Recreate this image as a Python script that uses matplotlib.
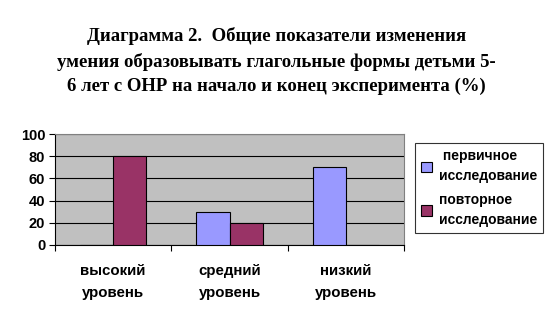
import matplotlib
matplotlib.use("Agg")
import matplotlib.pyplot as plt
import numpy as np

categories = ["высокий\nуровень", "средний\nуровень", "низкий\nуровень"]
series_names = [" первичное\nисследование", "повторное\nисследование"]
primary = [0, 30, 70]
repeat = [80, 20, 0]
yticks = [0, 20, 40, 60, 80, 100]
title = "Диаграмма 2.  Общие показатели изменения\nумения образовывать глагольные формы детьми 5-\n6 лет с ОНР на начало и конец эксперимента (%)"

W, H = 553, 322
fig = plt.figure(figsize=(W/100, H/100), dpi=100)
ax = fig.add_axes([55/W, 1-245/H, (404-55)/W, (245-134)/H])
ax.set_facecolor("#C0C0C0")

x = np.arange(len(categories))
w = 1/3.5
ax.bar(x - w/2, primary, w, color="#9999FF", edgecolor="black", linewidth=0.8, label=series_names[0], zorder=3)
ax.bar(x + w/2, repeat, w, color="#993366", edgecolor="black", linewidth=0.8, label=series_names[1], zorder=3)

ax.set_xlim(-0.5, len(categories)-0.5)
ax.set_ylim(0, 100)
ax.set_yticks(yticks)
ax.set_yticklabels([str(v) for v in yticks], fontsize=10.5, fontweight="bold", family="Liberation Sans")
ax.yaxis.grid(True, color="black", linewidth=0.8, zorder=1)
ax.set_axisbelow(True)
ax.set_xticks(np.arange(-0.5, len(categories)))
ax.set_xticklabels([])
ax.tick_params(axis="x", length=4, width=0.8, direction="out")
ax.tick_params(axis="y", length=4, width=0.8, direction="out", pad=3)
for s in ["top", "right"]:
    ax.spines[s].set_color("#808080")
    ax.spines[s].set_linewidth(0.8)
for s in ["left", "bottom"]:
    ax.spines[s].set_color("black")
    ax.spines[s].set_linewidth(0.8)

for i, c in enumerate(categories):
    ax.text(i, -0.17, c, transform=ax.get_xaxis_transform(), ha="center", va="top",
            fontsize=10.8, fontweight="bold", family="Liberation Sans", linespacing=1.7)

fig.text(0.5, 1-27/H, title, ha="center", va="top", fontsize=13.5, fontweight="bold",
         family="Liberation Serif", linespacing=1.55)

leg = fig.legend(loc="upper left", bbox_to_anchor=(415/W, 1-143/H), frameon=True,
                 prop={"family": "Liberation Sans", "weight": "bold", "size": 10},
                 handlelength=0.75, handleheight=0.75, handletextpad=0.5, borderpad=0.45,
                 labelspacing=0.75, fancybox=False, borderaxespad=0)
for t in leg.get_texts():
    t.set_linespacing(1.5)
leg.get_frame().set_edgecolor("black")
leg.get_frame().set_linewidth(0.8)

fig.savefig("out.png", dpi=100)
